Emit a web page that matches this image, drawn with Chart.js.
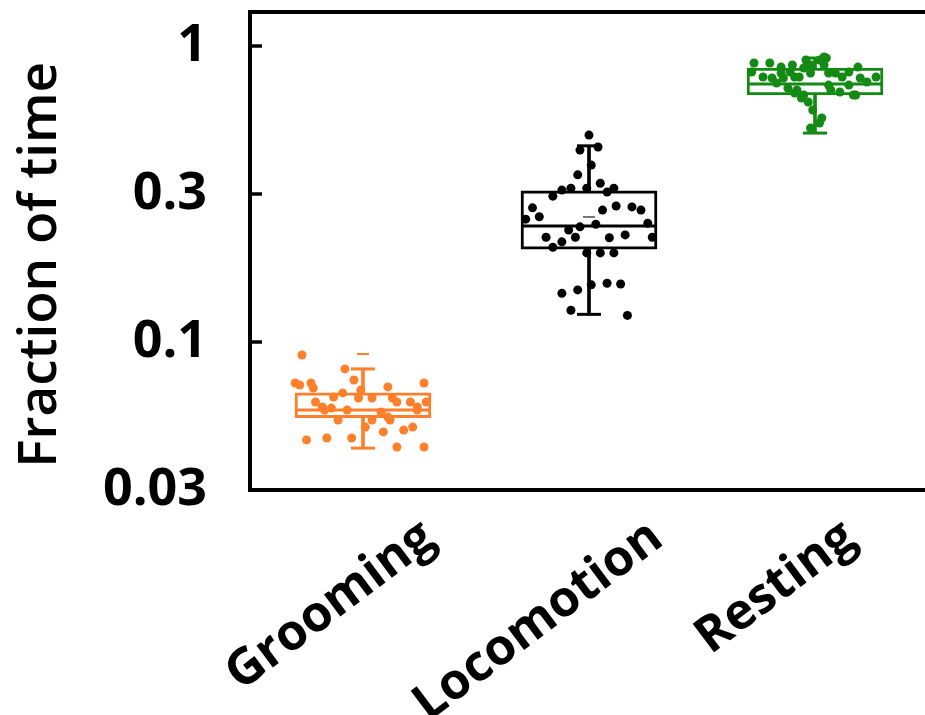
<!DOCTYPE html>
<html>
<head>
<meta charset="utf-8">
<script src="https://cdn.jsdelivr.net/npm/chart.js@4.4.0/dist/chart.umd.min.js"></script>
<style>
  html, body { margin: 0; padding: 0; background: #fff; overflow: hidden; }
</style>
</head>
<body>
<canvas id="chart" width="930" height="715"></canvas>
<script>
// Categories and colours
const categories = ['Grooming', 'Locomotion', 'Resting'];
const colors = ['#ff7f2a', '#000000', '#138a13'];

// Box statistics (fraction of time)
const whiskerLow  = [0.0438, 0.124, 0.508];
const q1Vals      = [0.0555, 0.206, 0.683];
const medianVals  = [0.0589, 0.2465, 0.744];
const q3Vals      = [0.0673, 0.324, 0.843];
const whiskerHigh = [0.0811, 0.46, 0.911];
const dashVals    = [0.0911, 0.2645, null];

// Individual points: jitter from category centre, value
const groomJitter = [-0.27, -0.08, -0.04, -0.30, -0.28, -0.23, -0.22, -0.09, -0.01, 0.11, 0.27, -0.21, -0.18, -0.17, -0.14, -0.13, -0.11, -0.07, -0.02, 0.04, 0.08, 0.04, 0.01, 0.12, 0.13, 0.15, 0.21, 0.24, 0.28, 0.22, 0.09, 0.18, -0.25, -0.16, -0.05, 0.15, 0.27, 0.11, 0.24];
const groomVals = [0.0904, 0.0811, 0.0744, 0.0727, 0.0716, 0.0727, 0.0699, 0.0673, 0.0688, 0.0705, 0.0727, 0.0627, 0.0603, 0.0589, 0.0598, 0.0652, 0.0545, 0.0589, 0.0647, 0.0647, 0.0580, 0.0545, 0.0516, 0.0545, 0.0647, 0.0627, 0.0627, 0.0603, 0.0627, 0.0516, 0.0497, 0.0504, 0.0467, 0.0474, 0.0474, 0.0442, 0.0442, 0.0558, 0.0589];

const locoJitter = [0.00, -0.04, 0.04, 0.01, -0.05, -0.12, -0.08, -0.16, 0.05, 0.08, 0.11, -0.01, -0.25, -0.22, -0.28, 0.06, 0.12, 0.19, 0.23, 0.26, 0.03, -0.04, -0.09, -0.06, -0.19, -0.16, -0.12, 0.09, 0.16, 0.28, -0.01, 0.05, 0.11, -0.12, -0.05, 0.01, 0.08, 0.14, -0.08, 0.17];
const locoVals = [0.500, 0.445, 0.456, 0.396, 0.367, 0.326, 0.331, 0.311, 0.344, 0.321, 0.331, 0.331, 0.284, 0.265, 0.260, 0.279, 0.288, 0.286, 0.279, 0.252, 0.250, 0.245, 0.239, 0.226, 0.226, 0.209, 0.218, 0.225, 0.230, 0.226, 0.200, 0.200, 0.200, 0.146, 0.150, 0.156, 0.158, 0.157, 0.128, 0.123];

const restJitter = [-0.27, -0.20, -0.28, -0.23, -0.19, -0.15, -0.11, -0.09, -0.05, -0.02, 0.02, 0.05, 0.04, -0.04, 0.04, -0.10, -0.15, 0.19, 0.15, 0.20, 0.09, 0.06, -0.02, -0.07, -0.14, -0.17, 0.15, 0.11, 0.07, 0.18, -0.09, -0.05, -0.12, -0.08, -0.06, -0.03, -0.01, 0.03, 0.02, -0.02, 0.23, 0.27, 0.12, 0.06, 0.17];
const restVals = [0.876, 0.876, 0.817, 0.786, 0.780, 0.811, 0.817, 0.786, 0.843, 0.863, 0.897, 0.911, 0.918, 0.897, 0.863, 0.863, 0.849, 0.849, 0.817, 0.780, 0.811, 0.811, 0.811, 0.786, 0.780, 0.750, 0.738, 0.699, 0.710, 0.683, 0.694, 0.683, 0.721, 0.710, 0.667, 0.647, 0.608, 0.571, 0.549, 0.528, 0.756, 0.786, 0.786, 0.738, 0.683];

// Y axis (log, half-decade ticks)
const yMin = 0.031623;
const yMax = 1.303;
const yTickVals = [0.031623, 0.1, 0.31623, 1];
const yTickLabels = ['0.03', '0.1', '0.3', '1'];

const pointSets = [[groomJitter, groomVals], [locoJitter, locoVals], [restJitter, restVals]];
const FONT = "'Open Sans', 'DejaVu Sans', sans-serif";
// where the end of each rotated category label sits, relative to the category centre
const labelShift = [0.292, 0.30, 0.155];

const datasets = [];
categories.forEach((cat, i) => {
    // whisker
    datasets.push({
        type: 'bar', grouped: false, order: 5,
        data: [{ x: i, y: [whiskerLow[i], whiskerHigh[i]] }],
        backgroundColor: colors[i], barThickness: 3
    });
    // box
    datasets.push({
        type: 'bar', grouped: false, order: 4,
        data: [{ x: i, y: [q1Vals[i], q3Vals[i]] }],
        backgroundColor: '#ffffff', borderColor: colors[i], borderWidth: 3,
        borderSkipped: false, barThickness: 136
    });
    // median line
    datasets.push({
        type: 'scatter', order: 3,
        data: [{ x: i, y: medianVals[i] }],
        pointStyle: 'line', pointRadius: 67, borderColor: colors[i],
        pointBorderColor: colors[i], pointBorderWidth: 3
    });
    // whisker caps
    datasets.push({
        type: 'scatter', order: 3,
        data: [{ x: i, y: whiskerLow[i] }, { x: i, y: whiskerHigh[i] }],
        pointStyle: 'line', pointRadius: 12, borderColor: colors[i],
        pointBorderColor: colors[i], pointBorderWidth: 3
    });
    // small dash marker
    if (dashVals[i] !== null) {
        datasets.push({
            type: 'scatter', order: 2,
            data: [{ x: i, y: dashVals[i] }],
            pointStyle: 'line', pointRadius: 6,
            pointBorderColor: i === 1 ? '#777777' : colors[i], pointBorderWidth: 2
        });
    }
    // individual points
    const [jit, vals] = pointSets[i];
    datasets.push({
        type: 'scatter', order: 1,
        data: vals.map((v, k) => ({ x: i + jit[k], y: v })),
        pointRadius: 4.5, pointBorderWidth: 0,
        backgroundColor: colors[i], pointBackgroundColor: colors[i]
    });
});

// Top border and inside tick marks on the y axis
const framePlugin = {
    id: 'frame',
    afterDraw(chart) {
        const { ctx, chartArea: a } = chart;
        const y = chart.scales.y;
        ctx.save();
        ctx.strokeStyle = '#000';
        ctx.lineWidth = 4;
        ctx.beginPath();
        ctx.moveTo(a.left - 2, a.top);
        ctx.lineTo(a.right, a.top);
        ctx.stroke();
        ctx.lineWidth = 3.5;
        ctx.beginPath();
        yTickVals.forEach(v => {
            const py = y.getPixelForValue(v);
            ctx.moveTo(a.left, py);
            ctx.lineTo(a.left + 12, py);
        });
        ctx.stroke();
        ctx.restore();
    }
};

new Chart(document.getElementById('chart'), {
    type: 'bar',
    data: { datasets: datasets },
    options: {
        responsive: false,
        animation: false,
        layout: { autoPadding: false, padding: { left: 0, top: 12, right: 2, bottom: 0 } },
        plugins: { legend: { display: false }, tooltip: { enabled: false } },
        scales: {
            x: {
                type: 'linear', min: -0.5, max: 2.5, offset: false,
                afterBuildTicks: s => { s.ticks = categories.map((c, i) => ({ value: i + labelShift[i] })); },
                ticks: {
                    callback: (v, i) => categories[i],
                    font: { family: FONT, size: 50, weight: 'bold' },
                    color: '#000',
                    minRotation: 37, maxRotation: 37,
                    autoSkip: false,
                    padding: 18
                },
                grid: { drawOnChartArea: false, drawTicks: false, offset: false },
                border: { display: true, color: '#000', width: 4 },
                afterFit: s => { s.height = 225; s.paddingLeft = 0; s.paddingRight = 0; }
            },
            y: {
                type: 'logarithmic', min: yMin, max: yMax,
                afterBuildTicks: s => { s.ticks = yTickVals.map(v => ({ value: v })); },
                ticks: {
                    callback: (v, i) => yTickLabels[i],
                    font: { family: FONT, size: 52, weight: 'bold' },
                    color: '#000',
                    padding: 0
                },
                grid: { drawOnChartArea: false, drawTicks: true, tickLength: 43, tickColor: 'rgba(0,0,0,0)' },
                border: { display: true, color: '#000', width: 4 },
                title: {
                    display: true, text: 'Fraction of time  ', color: '#000',
                    font: { family: FONT, size: 53, weight: '600' },
                    padding: { top: 9, bottom: 0 }
                },
                afterFit: s => { s.width = 250; s.paddingTop = 0; s.paddingBottom = 0; }
            }
        }
    },
    plugins: [framePlugin]
});
</script>
</body>
</html>
